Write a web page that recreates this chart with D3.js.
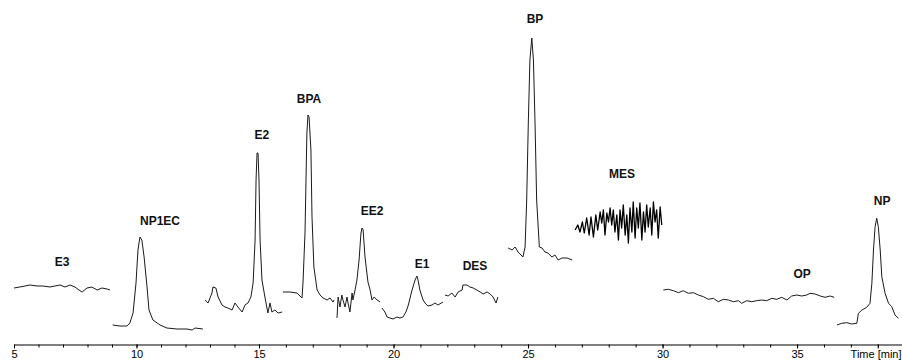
<!DOCTYPE html>
<html>
<head>
<meta charset="utf-8">
<script src="https://cdn.jsdelivr.net/npm/d3@7"></script>
<style>
  body { margin: 0; background: #fff; }
  svg { display: block; }
  .trace { fill: none; stroke: #1a1a1a; stroke-width: 1; stroke-linejoin: round; }
  .trace.dense { stroke-width: 1.3; stroke: #000; }
  .peak-label { font-family: "Liberation Sans", Arial, sans-serif; font-weight: bold; font-size: 12px; fill: #111; }
  .axis text { font-family: "Liberation Sans", Arial, sans-serif; font-size: 11px; fill: #000; }
  .axis path, .axis line { stroke: #000; }
</style>
</head>
<body>
<div id="chart"></div>
<script>
// chromatogram windows: [time (min), signal (a.u.)]
const e3 = [[5.00,57],[5.24,58],[5.45,59],[5.65,60],[5.94,59],[6.18,59],[6.47,58],[6.67,59],[6.88,60],
  [7.08,58],[7.29,60],[7.49,58],[7.65,55],[7.78,53],[7.98,57],[8.18,58],[8.39,55],[8.59,57],[8.80,56],[8.92,55]];
const np1ec = [[9.03,20],[9.33,19],[9.61,19],[9.73,22],[9.86,32],[9.98,62],[10.06,95],[10.14,108],[10.22,105],
  [10.31,88],[10.43,58],[10.51,35],[10.67,25],[10.96,20],[11.24,17],[11.65,16],[12.06,16],[12.27,15],[12.39,17],[12.71,16]];
const e2 = [[12.80,45],[12.92,42],[13.08,52],[13.12,58],[13.24,57],[13.33,48],[13.49,40],[13.61,38],[13.73,37],
  [13.90,35],[14.02,42],[14.14,38],[14.31,33],[14.43,40],[14.55,42],[14.67,48],[14.76,62],[14.84,105],[14.88,165],
  [14.92,192],[14.96,192],[15.00,165],[15.04,105],[15.11,65],[15.22,48],[15.33,32],[15.41,42],[15.48,33],
  [15.59,35],[15.71,32],[15.86,33]];
const bpa = [[15.89,53],[16.15,53],[16.41,52],[16.60,47],[16.64,65],[16.71,112],[16.78,212],[16.82,230],[16.86,228],
  [16.93,195],[16.97,128],[17.04,78],[17.16,55],[17.27,50],[17.38,47],[17.53,45],[17.64,47],[17.75,43],[17.79,45]];
const ee2 = [[17.90,27],[17.94,48],[18.01,38],[18.08,50],[18.12,45],[18.20,38],[18.27,48],[18.31,42],[18.38,33],
  [18.46,52],[18.49,45],[18.57,55],[18.64,65],[18.72,85],[18.79,112],[18.83,117],[18.87,115],[18.94,88],
  [19.01,72],[19.05,63],[19.13,55],[19.20,45],[19.28,48],[19.39,45],[19.50,43]];
const e1 = [[19.57,37],[19.68,33],[19.76,28],[19.87,27],[19.98,26],[20.13,28],[20.24,27],[20.35,28],[20.46,33],
  [20.54,39],[20.69,55],[20.80,65],[20.87,69],[20.91,65],[20.98,55],[21.10,45],[21.17,42],[21.28,39],
  [21.43,40],[21.54,42],[21.65,40],[21.84,43]];
const des = [[21.91,50],[22.03,49],[22.17,52],[22.29,48],[22.40,53],[22.55,55],[22.58,60],[22.73,60],[22.84,58],
  [22.96,57],[23.10,55],[23.22,53],[23.33,51],[23.48,53],[23.59,51],[23.70,48],[23.81,42],[23.88,48]];
const bp = [[24.26,97],[24.41,95],[24.52,98],[24.63,93],[24.81,88],[24.89,98],[24.95,145],[25.01,222],[25.07,285],
  [25.14,307],[25.20,285],[25.26,222],[25.32,145],[25.42,98],[25.52,97],[25.63,93],[25.74,92],[25.89,88],
  [26.00,90],[26.12,85],[26.26,87],[26.45,87],[26.64,85]];
const mes = [[26.75,115],[26.85,120],[26.93,113],[27.02,123],[27.09,112],[27.18,127],[27.27,110],[27.34,128],
  [27.43,108],[27.52,130],[27.59,115],[27.68,133],[27.74,122],[27.80,135],[27.86,110],[27.93,132],[27.99,123],
  [28.05,137],[28.11,120],[28.17,135],[28.23,113],[28.30,130],[28.36,105],[28.42,135],[28.48,117],[28.54,140],
  [28.61,110],[28.67,130],[28.73,102],[28.79,137],[28.86,113],[28.91,143],[28.98,107],[29.04,137],[29.10,117],
  [29.16,142],[29.23,105],[29.29,133],[29.35,113],[29.41,140],[29.47,118],[29.54,137],[29.60,110],[29.66,143],
  [29.72,123],[29.78,135],[29.84,107],[29.91,138],[29.97,120]];
const op = [[30.03,55],[30.22,55.7],[30.40,54.3],[30.59,52.3],[30.77,54.3],[30.96,51.7],[31.15,52.3],[31.33,50],
  [31.52,48.3],[31.70,45.7],[31.89,46.7],[32.07,43.3],[32.26,45.7],[32.45,45],[32.63,43.3],[32.82,44.3],
  [32.94,41.7],[33.13,44.3],[33.32,43.3],[33.50,44.3],[33.69,45],[33.87,44.3],[34.06,46.7],[34.25,45.7],
  [34.43,47.7],[34.62,45],[34.80,49],[34.99,50],[35.17,49],[35.36,50],[35.48,51.7],[35.67,51],[35.86,49],
  [36.04,47.7],[36.23,49],[36.38,47.7]];
const np = [[36.48,20],[36.66,21.7],[36.85,22.3],[37.03,21],[37.22,21.7],[37.28,31.7],[37.41,35],[37.59,37.7],
  [37.71,41.7],[37.78,61.7],[37.84,95],[37.90,118.3],[37.96,126.7],[38.02,118.3],[38.09,95],[38.15,68.3],
  [38.27,51.7],[38.40,41.7],[38.52,38.3],[38.64,30],[38.77,26.7]];

const segments = [e3, np1ec, e2, bpa, ee2, e1, des, bp, mes, op, np];

const peakNames = ['E3', 'NP1EC', 'E2', 'BPA', 'EE2', 'E1', 'DES', 'BP', 'MES', 'OP', 'NP'];
const peakLabelTimes = [6.96, 10.96, 15.11, 16.86, 19.20, 21.06, 23.03, 25.26, 28.49, 35.19, 38.16];
const peakLabelSignals = [79, 120, 206, 242, 130, 77, 75, 322, 167, 67, 140];

const majorTicks = [5, 10, 15, 20, 25, 30, 35, 38];
const minorTicks = d3.range(5, 39);
const axisTitle = 'Time [min]';

const width = 902;
const height = 361;

const svg = d3.select('#chart').append('svg')
  .attr('width', width)
  .attr('height', height);

// the scanned time axis is slightly stretched after 15 min
const x = d3.scaleLinear()
  .domain([5, 15, 38.9])
  .range([14, 259, 902]);

const y = d3.scaleLinear()
  .domain([0, 345])
  .range([345, 0]);

const line = d3.line()
  .x(d => x(d[0]))
  .y(d => y(d[1]));

svg.append('g')
  .selectAll('path')
  .data(segments)
  .join('path')
  .attr('class', d => d === mes ? 'trace dense' : 'trace')
  .attr('d', line);

svg.append('g')
  .selectAll('text')
  .data(peakNames)
  .join('text')
  .attr('class', 'peak-label')
  .attr('text-anchor', 'middle')
  .attr('x', (d, i) => x(peakLabelTimes[i]))
  .attr('y', (d, i) => y(peakLabelSignals[i]))
  .text(d => d);

const axisY = 344.5;

// minor ticks
svg.append('g')
  .attr('class', 'axis')
  .attr('transform', `translate(0,${axisY})`)
  .call(d3.axisBottom(x).tickValues(minorTicks).tickSize(3).tickSizeOuter(0).tickFormat(''));

// major ticks and labels
svg.append('g')
  .attr('class', 'axis')
  .attr('transform', `translate(0,${axisY})`)
  .call(d3.axisBottom(x)
    .tickValues(majorTicks)
    .tickSize(4)
    .tickSizeOuter(0)
    .tickPadding(2)
    .tickFormat(d => d === 38 ? axisTitle : d))
  .call(g => g.select('.domain').remove())
  .call(g => g.selectAll('.tick')
    .filter(d => d === 38)
    .select('text')
    .attr('text-anchor', 'end')
    .attr('x', width - 1 - x(38)));
</script>
</body>
</html>
